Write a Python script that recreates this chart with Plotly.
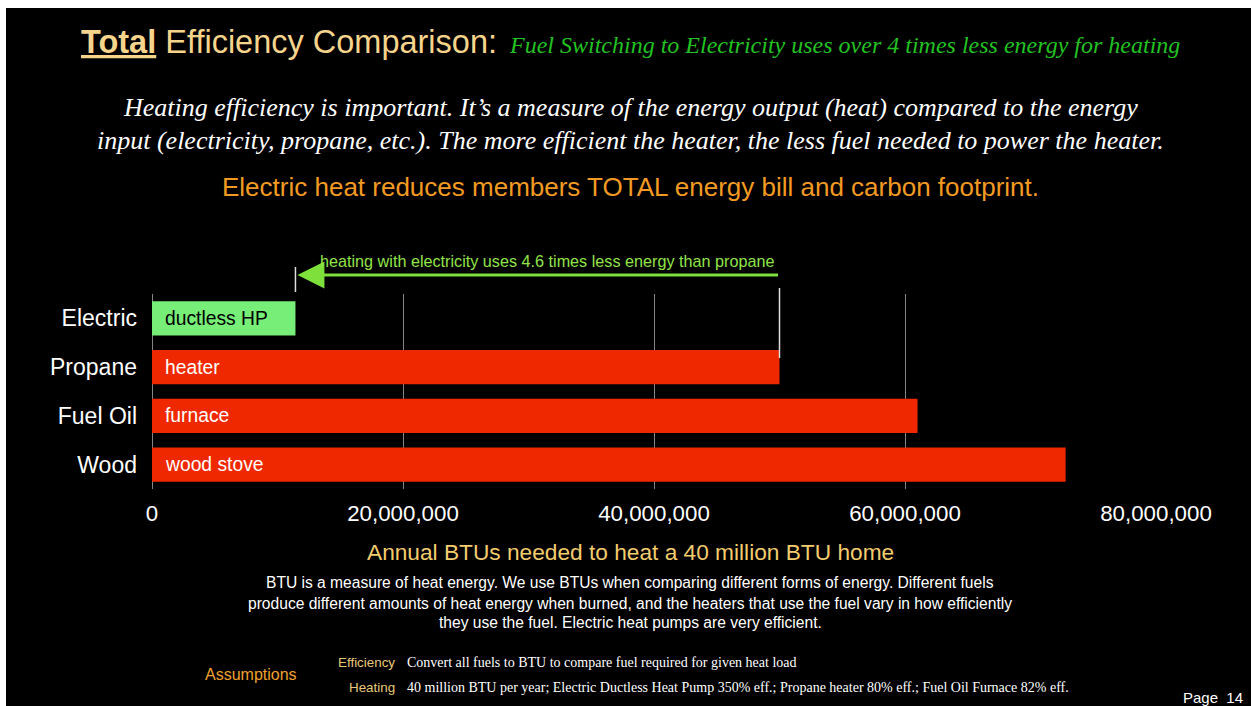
import plotly.graph_objects as go

# ---- data ----
fuels = ["Electric", "Propane", "Fuel Oil", "Wood"]
heaters = ["ductless HP", "heater", "furnace", "wood stove"]
annual_btu = [11_430_000, 50_000_000, 61_000_000, 72_800_000]
bar_colors = ["#77ee77", "#f02800", "#f02800", "#f02800"]
label_colors = ["#000000", "#ffffff", "#ffffff", "#ffffff"]
x_ticks = [0, 20_000_000, 40_000_000, 60_000_000, 80_000_000]
x_tick_text = ["0", "20,000,000", "40,000,000", "60,000,000", "80,000,000"]

W, H = 1251, 706
L, R, T, B = 152, 1156, 294, 489

SANS = "Liberation Sans, Arial, Helvetica, sans-serif"
SERIF = "Liberation Serif, Times New Roman, serif"


def px(x):
    return (x - L) / (R - L)


def py(y):
    return (B - y) / (B - T)


fig = go.Figure()
fig.add_trace(go.Bar(
    x=annual_btu,
    y=fuels,
    orientation="h",
    marker=dict(color=bar_colors, line=dict(width=0)),
    width=0.7,
    hoverinfo="skip",
))

ann = []

# labels inside the bars
for f, h, c in zip(fuels, heaters, label_colors):
    ann.append(dict(x=0, y=f, xref="x", yref="y", text=h, showarrow=False,
                    xanchor="left", yanchor="middle", xshift=11,
                    font=dict(family=SANS, size=19.3, color=c)))


def text(x, y, s, size, color, family=SANS, anchor="center"):
    ann.append(dict(x=px(x), y=py(y), xref="paper", yref="paper", text=s,
                    showarrow=False, xanchor=anchor, yanchor="middle",
                    font=dict(family=family, size=size, color=color)))


# heading
text(79, 42, "<b><u>Total</u></b> Efficiency Comparison:", 32.5, "#f6d48c", anchor="left")
text(507, 45, "<i>Fuel Switching to Electricity uses over 4 times less energy for heating</i>",
     24, "#22c222", family=SERIF, anchor="left")

text(630, 107, "<i>Heating efficiency is important. It’s a measure of the energy output (heat) compared to the energy</i>",
     26, "#ffffff", family=SERIF)
text(630, 141, "<i>input (electricity, propane, etc.). The more efficient the heater, the less fuel needed to power the heater.</i>",
     26, "#ffffff", family=SERIF)
text(630, 187, "Electric heat reduces members TOTAL energy bill and carbon footprint.", 26, "#f39a22")

# arrow comparing electric and propane
ann.append(dict(x=annual_btu[0], y=py(275), xref="x", yref="paper",
                ax=annual_btu[1], ay=0, axref="x", ayref="pixel",
                text="", showarrow=True, arrowhead=2, arrowsize=1.8,
                arrowwidth=3, arrowcolor="#7ee03a", standoff=2))
text(547, 261, "heating with electricity uses 4.6 times less energy than propane", 16.2, "#90e448")

# axis title and notes
text(630, 552, "Annual BTUs needed to heat a 40 million BTU home", 22.7, "#f3cc6e")
text(630, 582, "BTU is a measure of heat energy. We use BTUs when comparing different forms of energy. Different fuels", 15.6, "#ffffff")
text(630, 603, "produce different amounts of heat energy when burned, and the heaters that use the fuel vary in how efficiently", 15.6, "#ffffff")
text(630, 622, "they use the fuel. Electric heat pumps are very efficient.", 15.6, "#ffffff")

text(203, 674, "Assumptions", 16, "#f0a030", anchor="left")
text(397, 662, "Efficiency", 13.4, "#e8c878", anchor="right")
text(397, 687, "Heating", 13.4, "#e8c878", anchor="right")
text(405, 662, "Convert all fuels to BTU to compare fuel required for given heat load", 14, "#ffffff", family=SERIF, anchor="left")
text(405, 687, "40 million BTU per year; Electric Ductless Heat Pump 350% eff.; Propane heater 80% eff.; Fuel Oil Furnace 82% eff.",
     14, "#ffffff", family=SERIF, anchor="left")
text(1245, 697, "Page  14", 15, "#ffffff", anchor="right")

shapes = [
    # marker lines at the electric and propane bar ends
    dict(type="line", xref="x", yref="paper", x0=annual_btu[0], x1=annual_btu[0],
         y0=py(267), y1=py(292), line=dict(color="#dddddd", width=1.5)),
    dict(type="line", xref="x", yref="paper", x0=annual_btu[1], x1=annual_btu[1],
         y0=py(288), y1=py(358), line=dict(color="#dddddd", width=1.5)),
    # white frame strips
    dict(type="rect", xref="paper", yref="paper", x0=px(0), x1=px(W), y0=py(0), y1=py(8),
         fillcolor="#ffffff", line=dict(width=0), layer="above"),
    dict(type="rect", xref="paper", yref="paper", x0=px(0), x1=px(6), y0=py(0), y1=py(H),
         fillcolor="#ffffff", line=dict(width=0), layer="above"),
]

fig.update_layout(
    width=W, height=H,
    margin=dict(l=L, r=W - R, t=T, b=H - B, pad=0),
    paper_bgcolor="#000000", plot_bgcolor="#000000",
    showlegend=False,
    annotations=ann,
    shapes=shapes,
    xaxis=dict(range=[0, 80_000_000], tickvals=x_ticks, ticktext=x_tick_text,
               showgrid=True, gridcolor="#858585", gridwidth=1,
               zeroline=True, zerolinecolor="#858585", zerolinewidth=1,
               showline=False, ticks="", ticklabelstandoff=9,
               tickfont=dict(family=SANS, size=22.3, color="#ffffff"), fixedrange=True),
    yaxis=dict(categoryorder="array", categoryarray=fuels, autorange="reversed",
               showgrid=False, zeroline=False, showline=False, ticks="",
               ticklabelstandoff=14,
               tickfont=dict(family=SANS, size=23, color="#ffffff"), fixedrange=True),
    bargap=0.3,
)

fig.write_html("out.html")
